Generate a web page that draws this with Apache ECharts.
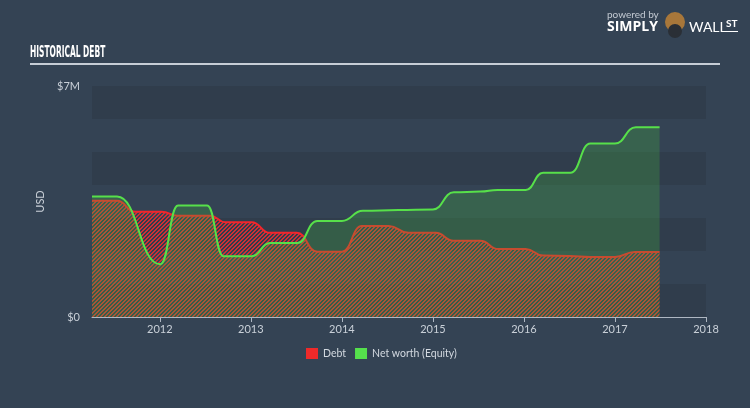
<!DOCTYPE html>
<html><head><meta charset="utf-8">
<script src="https://cdn.jsdelivr.net/npm/echarts@6/dist/echarts.min.js"></script>
<style>html,body{margin:0;padding:0;background:#344354;}#c{width:750px;height:408px;}</style>
</head><body><div id="c"></div>
<script>
// ---- data (values in USD millions, dates as decimal years) ----
const yearTicks = [2012, 2013, 2014, 2015, 2016, 2017, 2018];
const yTickLabels = { 0: '$0', 7: '$7M' };
const debtDates = [2011.255, 2011.53, 2011.73, 2012.02, 2012.19, 2012.555, 2012.72, 2013.01, 2013.21, 2013.505, 2013.73, 2014.0, 2014.22, 2014.515, 2014.73, 2015.03, 2015.225, 2015.52, 2015.72, 2016.02, 2016.21, 2016.5, 2016.73, 2017.0, 2017.22, 2017.49];
const debtValues = [3.52, 3.52, 3.19, 3.19, 3.07, 3.07, 2.87, 2.87, 2.55, 2.55, 1.98, 1.98, 2.76, 2.76, 2.55, 2.55, 2.31, 2.31, 2.06, 2.06, 1.86, 1.85, 1.82, 1.82, 1.97, 1.97];
const equityDates = [2011.255, 2011.53, 2012.005, 2012.2, 2012.52, 2012.7, 2013.01, 2013.21, 2013.51, 2013.73, 2014.0, 2014.23, 2014.62, 2015.0, 2015.23, 2015.52, 2015.71, 2016.02, 2016.21, 2016.51, 2016.73, 2017.0, 2017.23, 2017.49];
const equityValues = [3.65, 3.65, 1.6, 3.38, 3.38, 1.84, 1.84, 2.24, 2.24, 2.91, 2.91, 3.22, 3.24, 3.26, 3.78, 3.80, 3.85, 3.85, 4.37, 4.37, 5.26, 5.26, 5.75, 5.75];
const seriesNames = ['Debt', 'Net worth (Equity)'];

// ---- hatch pattern for debt area ----
const hatch = document.createElement('canvas');
hatch.width = 4; hatch.height = 4;
const hc = hatch.getContext('2d');
hc.fillStyle = 'rgb(205,48,54)';
for (let x = 0; x < 4; x++) for (let y = 0; y < 4; y++) {
  if (((x + y) % 4) < 2) hc.fillRect(x, y, 1, 1);
}

const chart = echarts.init(document.getElementById('c'), null, { renderer: 'canvas' });
const labelColor = '#c9d0d8';
chart.setOption({
  backgroundColor: '#344354',
  animation: false,
  grid: { left: 92, right: 44, top: 86, bottom: 91 },
  xAxis: {
    type: 'value', min: debtDates[0], max: 2018,
    axisLine: { show: true, lineStyle: { color: '#aeb7c2', width: 1 } },
    axisTick: { show: true, length: 5, lineStyle: { color: '#aeb7c2' }, customValues: yearTicks },
    axisLabel: { color: labelColor, fontSize: 11, fontFamily: 'Lato', margin: 7, customValues: yearTicks, formatter: v => String(Math.round(v)) },
    splitLine: { show: false }
  },
  yAxis: {
    type: 'value', min: 0, max: 7, interval: 1,
    name: 'USD', nameLocation: 'middle', nameGap: 24, nameRotate: 90,
    nameTextStyle: { color: labelColor, fontSize: 11, fontFamily: 'Lato' },
    axisLine: { show: false }, axisTick: { show: false },
    axisLabel: { color: labelColor, fontSize: 11, fontFamily: 'Lato', margin: 12, formatter: v => yTickLabels[v] || '' },
    splitLine: { show: false },
    splitArea: { show: true, areaStyle: { color: ['#303d4c', '#344354'] } }
  },
  legend: {
    bottom: 44, left: 301, icon: 'rect', itemWidth: 12, itemHeight: 11, itemGap: 9, itemStyle: {},
    textStyle: { color: '#d3d9e0', fontSize: 10.5, fontFamily: 'Lato' },
    data: [
      { name: seriesNames[0], itemStyle: { color: '#ee2a2a' } },
      { name: seriesNames[1], itemStyle: { color: '#55e04c' } }
    ]
  },
  series: [
    {
      name: seriesNames[0], type: 'line', smooth: 0.5, smoothMonotone: 'x', showSymbol: false,
      data: debtDates.map((d, i) => [d, debtValues[i]]),
      lineStyle: { color: '#f2262c', width: 2 },
      itemStyle: { color: '#ee2a2a' },
      areaStyle: { color: { image: hatch, repeat: 'repeat' }, opacity: 1 },
      z: 2
    },
    {
      name: seriesNames[1], type: 'line', smooth: 0.5, smoothMonotone: 'x', showSymbol: false,
      data: equityDates.map((d, i) => [d, equityValues[i]]),
      lineStyle: { color: '#57e04a', width: 2 },
      itemStyle: { color: '#55e04c' },
      areaStyle: { color: 'rgba(68,190,60,0.25)', opacity: 1 },
      z: 3
    }
  ],
  graphic: [
    { type: 'text', left: 30, top: 45, scaleX: 0.52, style: { text: 'HISTORICAL DEBT', fill: '#ffffff', font: 'bold 16px "DejaVu Sans Condensed"' } },
    { type: 'rect', shape: { x: 30, y: 63, width: 690, height: 2 }, style: { fill: '#c6cdd6' } },
    { type: 'text', left: 607, top: 10, style: { text: 'powered by', fill: '#c3cad3', font: '10px Lato' } },
    { type: 'text', left: 607, top: 20, style: { text: 'SIMPLY', fill: '#ffffff', font: 'bold 14px "Open Sans"' } },
    { type: 'circle', shape: { cx: 675, cy: 22, r: 10 }, style: { fill: '#a8773a' } },
    { type: 'circle', shape: { cx: 675, cy: 31, r: 7 }, style: { fill: '#2a2f36' } },
    { type: 'text', left: 689, top: 20, style: { text: 'WALL', fill: '#ffffff', font: '14px Lato' } },
    { type: 'text', left: 726, top: 19, style: { text: 'ST', fill: '#ffffff', font: 'bold 10px Lato' } },
    { type: 'rect', shape: { x: 726, y: 31, width: 12, height: 1 }, style: { fill: '#ffffff' } }
  ]
});
</script>
</body></html>
